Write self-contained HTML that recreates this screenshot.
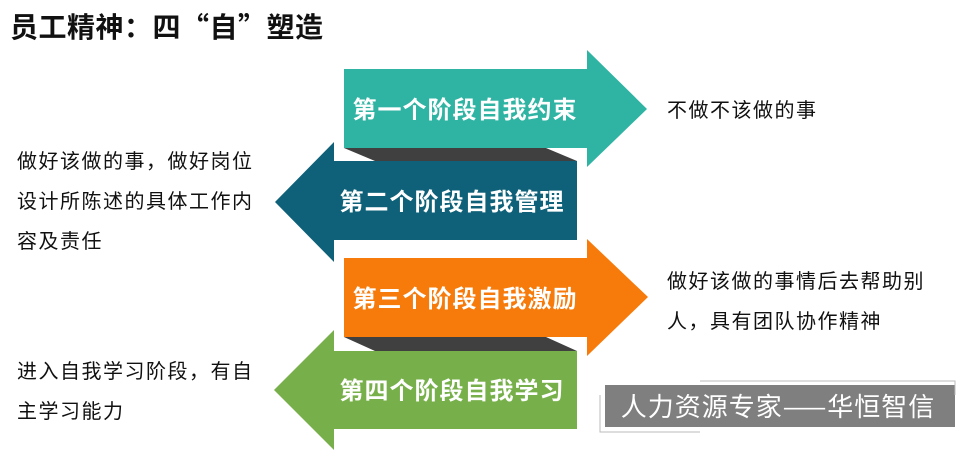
<!DOCTYPE html>
<html><head><meta charset="utf-8"><style>
body{margin:0;width:961px;height:450px;background:#fff;overflow:hidden;position:relative;font-family:"Liberation Sans","Noto Sans CJK SC",sans-serif}
.t{position:absolute;color:#111;font-size:20px;letter-spacing:1.5px;line-height:40px;white-space:nowrap;font-family:"Noto Sans CJK SC",sans-serif}
.lbl{font-family:"Noto Sans CJK SC",sans-serif;font-weight:bold;font-size:24px;letter-spacing:1px;fill:#fff}
</style></head><body>
<svg width="961" height="450" style="position:absolute;left:0;top:0">
<polygon points="344,148 546,148 577,161 375,161" fill="#404040"/>
<polygon points="344,337 546,337 577,351 375,351" fill="#404040"/>
<polygon points="344,69 587,69 587,50 647,109 587,167 587,148 344,148" fill="#2fb3a3"/>
<polygon points="577,161 334,161 334,142 275,202 334,262 334,240 577,240" fill="#0e6178"/>
<polygon points="344,258 587,258 587,239 648,297 587,356 587,337 344,337" fill="#f77b0b"/>
<polygon points="577,351 334,351 334,330 274,390 334,450 334,429 577,429" fill="#77b04a"/>
<text class="lbl" x="465" y="118" text-anchor="middle">第一个阶段自我约束</text>
<text class="lbl" x="452" y="210" text-anchor="middle">第二个阶段自我管理</text>
<text class="lbl" x="465" y="307" text-anchor="middle">第三个阶段自我激励</text>
<text class="lbl" x="452" y="399" text-anchor="middle">第四个阶段自我学习</text>
<rect x="605" y="385" width="350" height="42" fill="#7f7f7f"/>
<polyline points="700,381 955,381 955,395" fill="none" stroke="#bbb"/>
<polyline points="600,395 600,432 700,432" fill="none" stroke="#bbb"/>
<text x="778" y="416" text-anchor="middle" font-size="26" letter-spacing="1" fill="#fff" font-family="Noto Sans CJK SC,sans-serif">人力资源专家——华恒智信</text>
</svg>
<div style="position:absolute;left:10px;top:6px;font-size:28px;letter-spacing:0.5px;font-weight:bold;color:#111;font-family:'Noto Sans CJK SC',sans-serif;white-space:nowrap">员工精神：四“自”塑造</div>
<div class="t" style="left:667px;top:89px">不做不该做的事</div>
<div class="t" style="left:17px;top:140px">做好该做的事，做好岗位<br>设计所陈述的具体工作内<br>容及责任</div>
<div class="t" style="left:667px;top:260px">做好该做的事情后去帮助别<br>人，具有团队协作精神</div>
<div class="t" style="left:17px;top:350px">进入自我学习阶段，有自<br>主学习能力</div>
</body></html>
